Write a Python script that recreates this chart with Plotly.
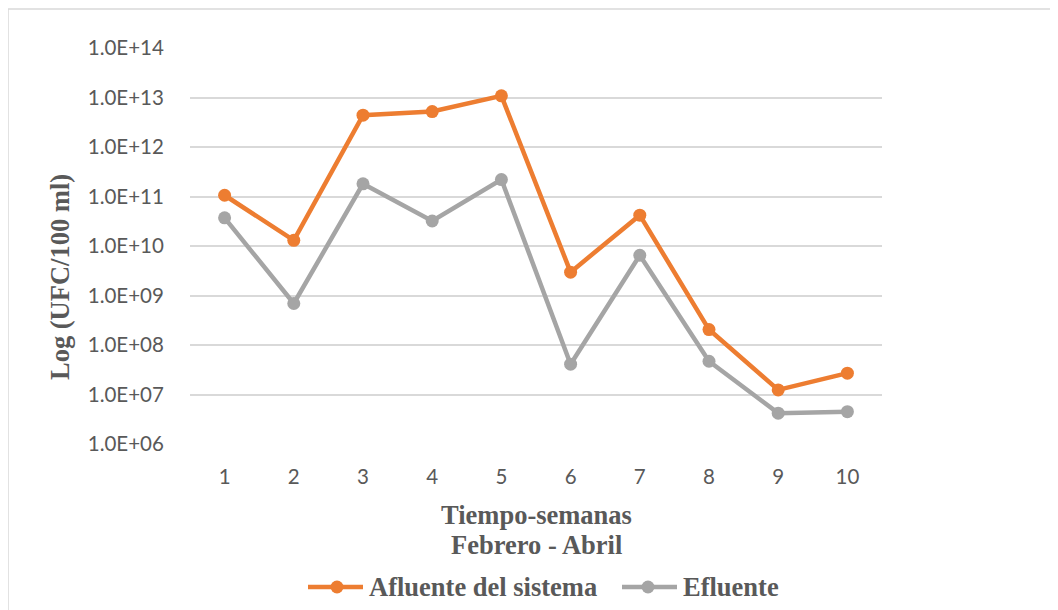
import plotly.graph_objects as go

semanas = [1, 2, 3, 4, 5, 6, 7, 8, 9, 10]
afluente = [1.06e11, 1.3e10, 4.4e12, 5.2e12, 1.08e13, 2.96e9, 4.2e10, 2.05e8, 1.24e7, 2.7e7]
efluente = [3.7e10, 6.9e8, 1.8e11, 3.2e10, 2.2e11, 4.1e7, 6.5e9, 4.7e7, 4.2e6, 4.5e6]
y_tickvals = [1e6, 1e7, 1e8, 1e9, 1e10, 1e11, 1e12, 1e13, 1e14]
y_ticktext = ["1.0E+06", "1.0E+07", "1.0E+08", "1.0E+09", "1.0E+10",
              "1.0E+11", "1.0E+12", "1.0E+13", "1.0E+14"]
series_names = ["Afluente del sistema", "Efluente"]

ORANGE = "#ED7D31"
GRAY = "#A5A5A5"
TXT = "#595959"
TICKFONT = dict(family="Lato, Carlito, sans-serif", size=20.5, color=TXT)
SERIF = "Liberation Serif, Times New Roman, serif"

# The page places the figure at an 8px body offset; work in figure coords.
OFF = 8
W, H = 1058 - OFF, 610 - OFF
L, R, T, B = 190 - OFF, 882 - OFF, 48 - OFF, 444 - OFF
pw, ph = R - L, B - T


def px(xp):  # page x -> paper x
    return (xp - OFF - L) / pw


def py(yp):  # page y -> paper y
    return (B - (yp - OFF)) / ph


fig = go.Figure()
for name, vals, col in [(series_names[0], afluente, ORANGE), (series_names[1], efluente, GRAY)]:
    fig.add_trace(go.Scatter(x=semanas, y=vals, mode="lines+markers", name=name,
                             line=dict(color=col, width=4.5),
                             marker=dict(color=col, size=13),
                             showlegend=False))

fig.update_layout(
    width=W, height=H,
    margin=dict(l=L, r=W - R, t=T, b=H - B),
    paper_bgcolor="white", plot_bgcolor="white",
    showlegend=False,
    xaxis=dict(range=[0.5, 10.5], tickvals=semanas,
               ticktext=[str(s) for s in semanas],
               tickfont=TICKFONT, showgrid=False, zeroline=False,
               showline=False, ticks="outside", ticklen=14,
               tickcolor="rgba(0,0,0,0)"),
    yaxis=dict(type="log", range=[6, 14], tickvals=y_tickvals,
               ticktext=y_ticktext, tickfont=TICKFONT,
               showgrid=True, gridcolor="#D9D9D9", gridwidth=1.5,
               zeroline=False, showline=False, ticks="outside",
               ticklen=21, tickcolor="rgba(0,0,0,0)"),
)

tfont = dict(family=SERIF, size=26.5, color=TXT)
fig.add_annotation(text="<b>Tiempo-semanas</b>", xref="paper", yref="paper",
                   x=0.5, y=py(515), xanchor="center", yanchor="middle",
                   showarrow=False, font=tfont)
fig.add_annotation(text="<b>Febrero - Abril</b>", xref="paper", yref="paper",
                   x=0.5, y=py(545), xanchor="center", yanchor="middle",
                   showarrow=False, font=tfont)
fig.add_annotation(text="<b>Log (UFC/100 ml)</b>", xref="paper", yref="paper",
                   x=px(60), y=py(277), xanchor="center",
                   yanchor="middle", textangle=-90, showarrow=False, font=tfont)

# custom legend
leg_items = [(series_names[0], ORANGE, 308, 363, 337, 367),
             (series_names[1], GRAY, 622, 677, 648, 681)]
ly = 587
for name, col, x0, x1, cx, tx in leg_items:
    fig.add_shape(type="line", xref="paper", yref="paper",
                  x0=px(x0), x1=px(x1), y0=py(ly), y1=py(ly),
                  line=dict(color=col, width=4.5))
    fig.add_shape(type="circle", xref="paper", yref="paper",
                  x0=px(cx - 6.5), x1=px(cx + 6.5), y0=py(ly + 6.5), y1=py(ly - 6.5),
                  fillcolor=col, line=dict(width=0))
    fig.add_annotation(text="<b>" + name + "</b>", xref="paper", yref="paper",
                       x=px(tx), y=py(ly), xanchor="left", yanchor="middle",
                       showarrow=False, font=tfont)

# chart-area border
fig.add_shape(type="line", xref="paper", yref="paper",
              x0=px(8), x1=px(8), y0=py(9), y1=py(615),
              line=dict(color="#D9D9D9", width=1.5))
fig.add_shape(type="line", xref="paper", yref="paper",
              x0=px(8), x1=px(1065), y0=py(9), y1=py(9),
              line=dict(color="#D9D9D9", width=1.5))

fig.write_html("out.html")
